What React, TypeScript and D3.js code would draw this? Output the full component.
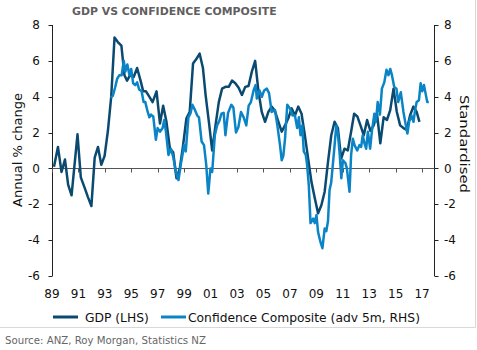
import React, { useEffect, useRef } from 'react';
import * as d3 from 'd3';

// GDP, annual % change (LHS)
const gdpDates = [
  1989.15, 1989.45, 1989.72, 1989.98, 1990.22, 1990.48, 1990.93, 1991.18, 1991.48, 1991.72,
  1991.98, 1992.23, 1992.48, 1992.73, 1992.98, 1993.23, 1993.48, 1993.73, 1993.98, 1994.25,
  1994.48, 1994.68, 1994.94, 1995.18, 1995.44, 1995.7, 1995.9, 1996.11, 1996.36, 1996.61,
  1996.91, 1997.17, 1997.41, 1997.66, 1997.92, 1998.17, 1998.42, 1998.67, 1998.92, 1999.17,
  1999.42, 1999.67, 1999.92, 2000.17, 2000.42, 2000.62, 2000.87, 2001.12, 2001.37, 2001.62,
  2001.87, 2002.12, 2002.37, 2002.62, 2002.87, 2003.12, 2003.37, 2003.62, 2003.87, 2004.12,
  2004.37, 2004.62, 2004.87, 2005.12, 2005.37, 2005.62, 2005.87, 2006.13, 2006.38, 2006.63,
  2006.88, 2007.13, 2007.38, 2007.63, 2007.88, 2008.13, 2008.38, 2008.63, 2008.88, 2009.13,
  2009.38, 2009.63, 2009.88, 2010.13, 2010.38, 2010.63, 2010.88, 2011.13, 2011.38, 2011.63,
  2011.86, 2012.1, 2012.34, 2012.59, 2012.84, 2013.09, 2013.34, 2013.59, 2013.84, 2014.09,
  2014.34, 2014.59, 2014.84, 2015.09, 2015.34, 2015.59, 2015.84, 2016.09, 2016.34, 2016.59,
  2016.8,
];
const gdpValues = [
  0.1, 1.2, -0.2, 0.5, -0.9, -1.5, 1.9, -0.5, -1.1, -1.6,
  -2.1, 0.6, 1.2, 0.2, 0.7, 2.1, 4.0, 7.3, 7.05, 6.85,
  5.2, 4.9, 5.25, 5.1, 5.6, 4.9, 4.3, 4.3, 4.0, 3.7,
  4.3, 2.5, 3.5, 2.6, 1.1, 0.9, -0.55, 0.0, 1.3, 2.8,
  3.15, 5.85, 6.1, 6.4, 5.6, 4.1, 2.6, 1.0, 2.4, 3.7,
  4.45, 4.55, 4.55, 4.9, 4.75, 4.5, 4.1, 4.55, 4.6, 5.4,
  6.0, 4.3, 3.15, 2.6, 3.15, 3.45, 3.2, 2.6, 2.05, 2.4,
  2.8, 3.35, 2.95, 3.45, 3.05, 1.85, 0.55, -0.75, -1.65, -2.5,
  -2.05, -1.3, 0.35, 1.85, 2.6, 2.25, 0.55, 1.1, 1.0, 2.05,
  3.05, 2.9, 2.4, 1.85, 2.7, 2.1, 2.4, 3.05, 1.4, 2.85,
  2.7, 3.25, 4.45, 3.15, 2.4, 2.25, 2.15, 2.95, 3.45, 3.15,
  2.6,
];

// Confidence composite, standardised, advanced 5 months (RHS)
const confDates = [
  1993.43, 1993.6, 1993.77, 1993.93, 1994.1, 1994.27, 1994.43, 1994.55, 1994.7, 1994.86,
  1994.99, 1995.14, 1995.3, 1995.44, 1995.6, 1995.78, 1995.93, 1996.06, 1996.24, 1996.37,
  1996.49, 1996.66, 1996.86, 1996.99, 1997.17, 1997.37, 1997.49, 1997.62, 1997.81, 1997.99,
  1998.17, 1998.37, 1998.57, 1998.74, 1998.87, 1998.99, 1999.12, 1999.32, 1999.49, 1999.62,
  1999.82, 1999.99, 2000.12, 2000.32, 2000.5, 2000.67, 2000.82, 2000.99, 2001.12, 2001.32,
  2001.49, 2001.66, 2001.82, 2001.99, 2002.12, 2002.32, 2002.57, 2002.72, 2002.92, 2003.1,
  2003.3, 2003.5, 2003.7, 2003.88, 2004.05, 2004.25, 2004.4, 2004.5, 2004.7, 2004.88,
  2005.05, 2005.25, 2005.42, 2005.62, 2005.87, 2006.05, 2006.25, 2006.38, 2006.5, 2006.63,
  2006.8, 2007.0, 2007.2, 2007.38, 2007.55, 2007.68, 2007.8, 2007.93, 2008.05, 2008.2,
  2008.3, 2008.43, 2008.56, 2008.76, 2008.88, 2009.01, 2009.13, 2009.31, 2009.46, 2009.63,
  2009.75, 2009.88, 2010.0, 2010.12, 2010.34, 2010.51, 2010.64, 2010.77, 2010.89, 2011.01,
  2011.2, 2011.31, 2011.51, 2011.63, 2011.76, 2011.89, 2012.09, 2012.26, 2012.39, 2012.51,
  2012.64, 2012.77, 2012.9, 2013.07, 2013.2, 2013.39, 2013.51, 2013.64, 2013.81, 2013.96,
  2014.14, 2014.31, 2014.46, 2014.59, 2014.72, 2014.89, 2015.06, 2015.19, 2015.39, 2015.59,
  2015.77, 2015.89, 2016.02, 2016.2, 2016.35, 2016.47, 2016.59, 2016.76, 2016.89, 2017.01,
  2017.14, 2017.26, 2017.39, 2017.51,
];
const confValues = [
  3.95, 4.05, 4.5, 5.0, 5.2, 5.2, 6.0, 5.4, 5.8, 5.2,
  5.55, 4.75, 4.65, 4.8, 4.4, 4.3, 3.7, 3.7, 3.15, 2.85,
  3.0, 2.9, 1.6, 2.25, 2.05, 2.25, 2.7, 2.05, 0.75, 1.1,
  0.65, -0.2, -0.65, 0.2, 0.75, 1.3, 0.95, 2.85, 3.1, 3.55,
  3.25, 2.95, 2.85, 1.5, 1.3, 0.2, -1.4, 0.0, -0.2, 1.85,
  2.4, 2.65, 3.05, 3.1, 1.85, 3.1, 3.55, 3.4, 2.0, 2.3,
  3.15, 2.85, 2.4, 3.5, 3.7, 4.35, 4.65, 3.9, 4.35, 4.0,
  4.35, 4.45, 4.2, 3.15, 3.25, 2.4, 1.3, 0.45, 0.7, 1.65,
  3.55, 3.35, 2.95, 2.95, 2.25, 2.85, 1.85, 2.4, 0.95, 0.75,
  0.2, -0.95, -3.05, -2.8, -3.05, -2.6, -3.55, -4.1, -4.45, -3.35,
  -3.5, -2.95, -1.2, -0.8, 0.95, 2.4, 1.85, 0.75, -0.55, 0.45,
  0.3, 0.0, -1.3, 0.75, 1.65, 1.3, 1.0, 1.3, 1.2, 1.85,
  1.4, 1.1, 2.05, 1.1, 2.05, 3.05, 2.6, 3.7, 3.0, 4.45,
  4.8, 5.5, 5.2, 5.55, 5.2, 4.55, 4.45, 3.7, 4.25, 3.15,
  2.4, 1.95, 2.6, 2.95, 2.6, 3.25, 3.7, 3.8, 4.75, 4.3,
  4.65, 4.2, 3.7, 3.7,
];

const yTicks = [8, 6, 4, 2, 0, -2, -4, -6];
const xTickYears = [1989, 1991, 1993, 1995, 1997, 1999, 2001, 2003, 2005, 2007, 2009, 2011, 2013, 2015, 2017];
const xTickLabels = ['89', '91', '93', '95', '97', '99', '01', '03', '05', '07', '09', '11', '13', '15', '17'];

const GDP_COLOR = '#0b4a70';
const CONF_COLOR = '#0a84c6';
const FONT = '"DejaVu Sans", Verdana, sans-serif';

const App = () => {
  const svgRef = useRef(null);

  useEffect(() => {
    const width = 477;
    const height = 350;
    const svg = d3.select(svgRef.current);
    svg.selectAll('*').remove();
    svg.attr('width', width).attr('height', height);

    const x = d3.scaleLinear().domain([1989, 2018]).range([52, 435.3]);
    const y = d3.scaleLinear().domain([-6, 8]).range([276, 25]);

    // outer frame (right + bottom only visible)
    svg.append('line').attr('x1', 475.5).attr('x2', 475.5).attr('y1', 0).attr('y2', 327.5)
      .attr('stroke', '#d9d9d9');
    svg.append('line').attr('x1', 0).attr('x2', 475.5).attr('y1', 327.5).attr('y2', 327.5)
      .attr('stroke', '#d9d9d9');

    // title
    svg.append('text')
      .attr('x', 72).attr('y', 15)
      .attr('font-family', FONT).attr('font-size', 10.9).attr('font-weight', 'bold')
      .attr('fill', '#5f5f5f')
      .text('GDP VS CONFIDENCE COMPOSITE');

    const xl = Math.round(x.range()[0]) + 0.5;
    const xr = Math.round(x.range()[1]) - 0.5;

    // left axis
    svg.append('line').attr('x1', xl).attr('x2', xl).attr('y1', y(8)).attr('y2', y(-6))
      .attr('stroke', '#222');
    svg.selectAll('.ltick').data(yTicks).enter().append('line')
      .attr('x1', xl - 4).attr('x2', xl)
      .attr('y1', d => Math.round(y(d)) + 0.5).attr('y2', d => Math.round(y(d)) + 0.5)
      .attr('stroke', '#222');
    svg.selectAll('.llab').data(yTicks).enter().append('text')
      .attr('x', 40).attr('y', d => y(d)).attr('dy', '0.35em')
      .attr('text-anchor', 'end')
      .attr('font-family', FONT).attr('font-size', 12).attr('fill', '#111')
      .text(d => d);

    // right axis
    svg.append('line').attr('x1', xr).attr('x2', xr).attr('y1', y(8)).attr('y2', y(-6))
      .attr('stroke', '#222');
    svg.selectAll('.rtick').data(yTicks).enter().append('line')
      .attr('x1', xr).attr('x2', xr + 4)
      .attr('y1', d => Math.round(y(d)) + 0.5).attr('y2', d => Math.round(y(d)) + 0.5)
      .attr('stroke', '#222');
    svg.selectAll('.rlab').data(yTicks).enter().append('text')
      .attr('x', 444).attr('y', d => y(d)).attr('dy', '0.35em')
      .attr('font-family', FONT).attr('font-size', 12).attr('fill', '#111')
      .text(d => d);

    // zero line with ticks
    const y0 = Math.round(y(0)) + 0.5;
    svg.append('line').attr('x1', xl).attr('x2', xr).attr('y1', y0).attr('y2', y0)
      .attr('stroke', '#555');
    svg.selectAll('.xtick').data(xTickYears).enter().append('line')
      .attr('x1', d => Math.round(x(d)) + 0.5).attr('x2', d => Math.round(x(d)) + 0.5)
      .attr('y1', y0).attr('y2', y0 + 4)
      .attr('stroke', '#555');
    svg.selectAll('.xlab').data(xTickYears).enter().append('text')
      .attr('x', d => x(d)).attr('y', 297.5)
      .attr('text-anchor', 'middle')
      .attr('font-family', FONT).attr('font-size', 12).attr('fill', '#111')
      .text((d, i) => xTickLabels[i]);

    // axis titles
    svg.append('text')
      .attr('transform', 'translate(17,150) rotate(-90)')
      .attr('dy', '0.35em').attr('text-anchor', 'middle')
      .attr('font-family', FONT).attr('font-size', 13).attr('fill', '#111')
      .attr('textLength', 114).attr('lengthAdjust', 'spacingAndGlyphs')
      .text('Annual % change');
    svg.append('text')
      .attr('transform', 'translate(465,144) rotate(90)')
      .attr('dy', '0.35em').attr('text-anchor', 'middle')
      .attr('font-family', FONT).attr('font-size', 13).attr('fill', '#111')
      .attr('textLength', 98).attr('lengthAdjust', 'spacingAndGlyphs')
      .text('Standardised');

    // series
    const line = d3.line()
      .x(d => x(d[0]))
      .y(d => y(d[1]));

    svg.append('path')
      .datum(gdpDates.map((d, i) => [d, gdpValues[i]]))
      .attr('d', line)
      .attr('fill', 'none').attr('stroke', GDP_COLOR).attr('stroke-width', 2.5)
      .attr('stroke-linejoin', 'round');

    svg.append('path')
      .datum(confDates.map((d, i) => [d, confValues[i]]))
      .attr('d', line)
      .attr('fill', 'none').attr('stroke', CONF_COLOR).attr('stroke-width', 2.5)
      .attr('stroke-linejoin', 'round');

    // legend
    const legend = [
      { label: 'GDP (LHS)', color: GDP_COLOR, x: 53, tx: 85 },
      { label: 'Confidence Composite (adv 5m, RHS)', color: CONF_COLOR, x: 161, tx: 188 },
    ];
    const lg = svg.selectAll('.legend').data(legend).enter().append('g');
    lg.append('line')
      .attr('x1', d => d.x).attr('x2', d => d.x + 25)
      .attr('y1', 317).attr('y2', 317)
      .attr('stroke', d => d.color).attr('stroke-width', 3);
    lg.append('text')
      .attr('x', d => d.tx).attr('y', 321.5)
      .attr('font-family', FONT).attr('font-size', 12.3).attr('fill', '#111')
      .text(d => d.label);

    // source
    svg.append('text')
      .attr('x', 5).attr('y', 344)
      .attr('font-family', FONT).attr('font-size', 10.2).attr('fill', '#666')
      .text('Source: ANZ, Roy Morgan, Statistics NZ');
  }, []);

  return (
    <svg ref={svgRef} style={{ position: 'absolute', left: 0, top: 0 }}></svg>
  );
};

export default App;
